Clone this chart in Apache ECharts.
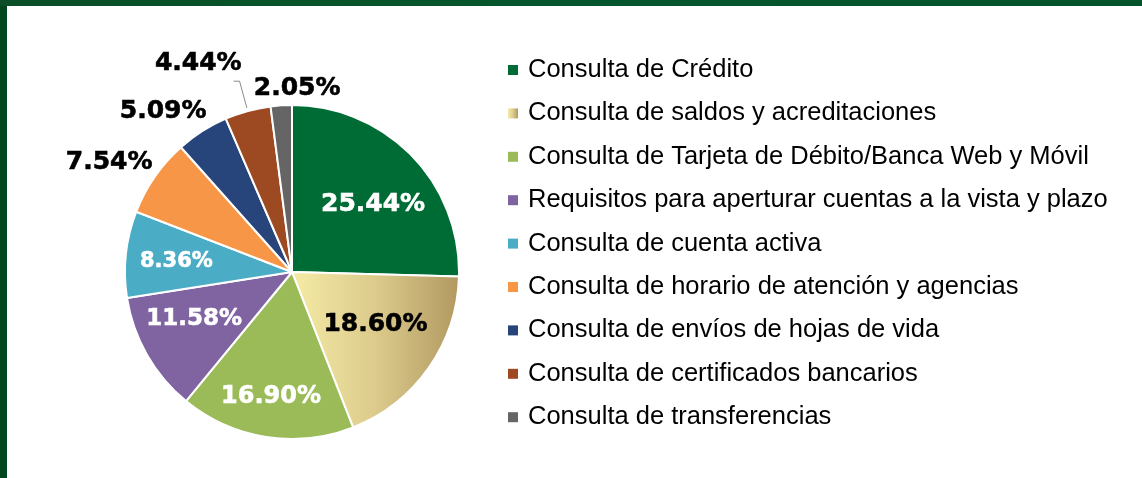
<!DOCTYPE html>
<html>
<head>
<meta charset="utf-8">
<script src="https://cdn.jsdelivr.net/npm/echarts@6/dist/echarts.min.js"></script>
<style>
  html, body { margin: 0; padding: 0; background: #fff; }
  #chart { width: 1142px; height: 478px; }
</style>
</head>
<body>
<div id="chart"></div>
<script>
// data
var categories = [
    'Consulta de Crédito',
    'Consulta de saldos y acreditaciones',
    'Consulta de Tarjeta de Débito/Banca Web y Móvil',
    'Requisitos para aperturar cuentas a la vista y plazo',
    'Consulta de cuenta activa',
    'Consulta de horario de atención y agencias',
    'Consulta de envíos de hojas de vida',
    'Consulta de certificados bancarios',
    'Consulta de transferencias'
];
var shares = [25.44, 18.60, 16.90, 11.58, 8.36, 7.54, 5.09, 4.44, 2.05];

// styling / layout
var CX = 292, CY = 272, R = 167;
var colors = [
    '#006C35',
    new echarts.graphic.LinearGradient(0, 0, 1, 0, [
        {offset: 0, color: '#F5EBA6'},
        {offset: 0.5, color: '#DCCB8C'},
        {offset: 1, color: '#B19860'}
    ]),
    '#9BBB59', '#8064A2', '#4BACC6', '#F79646', '#27457A', '#9D4A22', '#656565'
];
var labelColors = ['#fff', '#000', '#fff', '#fff', '#fff', '#000', '#000', '#000', '#000'];
var labelSizes = [25, 25, 24, 23, 21, 25, 25, 25, 25];
var labelR = [0.63, 0.59, 0.755, 0.65, 0.695, 1.275, 1.233, 1.371, 1.10];
var labelTurn = [4.6, -3, 0.6, 4.2, -1.2, -3.9, -6.2, -8.8, 5.3];

var total = 0, cum = [];
shares.forEach(function (v) { cum.push(total); total += v; });

function midAngle(i) {
    return (cum[i] + shares[i] / 2) / total * Math.PI * 2;
}

var data = shares.map(function (v, i) {
    return {
        name: categories[i],
        value: v,
        itemStyle: {color: colors[i]},
        label: {
            color: labelColors[i],
            fontSize: labelSizes[i],
            textBorderColor: labelColors[i],
            textBorderWidth: 0.6
        },
        labelLine: {show: i === 7}
    };
});

var chart = echarts.init(document.getElementById('chart'));
chart.setOption({
    animation: false,
    graphic: [
        {type: 'rect', shape: {x: 0, y: 0, width: 7, height: 478}, style: {fill: '#01461F'}},
        {type: 'rect', shape: {x: 0, y: 0, width: 1142, height: 6},
            style: {fill: new echarts.graphic.LinearGradient(0, 0, 1, 0, [
                {offset: 0, color: '#0A4F27'},
                {offset: 0.5, color: '#04562C'},
                {offset: 1, color: '#03532A'}
            ])}}
    ],
    legend: {
        orient: 'vertical',
        left: 508,
        top: 57,
        padding: 0,
        itemWidth: 10,
        itemHeight: 10,
        itemGap: 17.4,
        icon: 'rect',
        itemStyle: {borderWidth: 0},
        textStyle: {
            fontFamily: 'Liberation Sans',
            fontSize: 25.5,
            lineHeight: 26,
            color: '#000',
            padding: [0, 0, 0, 5]
        },
        data: categories
    },
    series: [{
        type: 'pie',
        center: [CX, CY],
        radius: R,
        startAngle: 90,
        clockwise: true,
        itemStyle: {borderColor: '#fff', borderWidth: 2},
        label: {
            show: true,
            position: 'outside',
            overflow: 'none',
            fontFamily: 'DejaVu Sans',
            fontWeight: 'bold',
            formatter: function (p) { return p.value.toFixed(2) + '%'; }
        },
        labelLine: {show: false, lineStyle: {color: '#8a8a8a', width: 1}},
        labelLayout: function (params) {
            var i = params.dataIndex;
            var a = midAngle(i) + labelTurn[i] * Math.PI / 180;
            var rr = R * labelR[i];
            var out = {
                x: CX + rr * Math.sin(a),
                y: CY - rr * Math.cos(a),
                align: 'center',
                verticalAlign: 'middle',
                width: 200
            };
            if (i === 7) {
                var m = midAngle(i);
                var p0 = [CX + R * 1.02 * Math.sin(m), CY - R * 1.02 * Math.cos(m)];
                var p1 = [CX + R * 1.185 * Math.sin(m), CY - R * 1.185 * Math.cos(m)];
                out.labelLinePoints = [p0, p1, [p1[0] - 6, p1[1]]];
            }
            return out;
        },
        data: data
    }]
});
</script>
</body>
</html>
